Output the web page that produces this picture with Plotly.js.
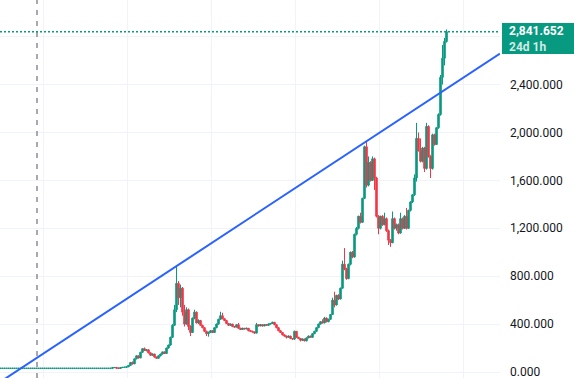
<!DOCTYPE html>
<html>
<head>
<meta charset="utf-8">
<script src="https://cdn.plot.ly/plotly-3.0.1.min.js"></script>
<style>html,body{margin:0;padding:0;background:#fff;}#chart{width:574px;height:378px;}</style>
</head>
<body>
<div id="chart"></div>
<script>
// Candle values (monthly-style bars)
const openV = [31,31,31,31,31,31,31,31,31,31,31,31,31,31,31,31,31,31,31,31,31,31,31,31,31,31,31,31,31,31,31,31,31,31,31,31,31,31,31,31,31,31,31,31,31,31,31,31,31,31,31,31,31,31,31,31,
31,36,38,33,30,37,39,40,43,55,80,68,110,135,118,165,195,180,185,160,140,150,125,115,135,150,168,155,200,225,290,390,520,740,620,700,500,400,520,380,330,450,500,410,430,390,370,340,320,330,345,330,370,400,440,470,445,430,405,390,400,380,375,395,365,355,365,360,365,345,340,335,325,395,385,395,385,395,390,400,405,415,395,370,345,330,310,300,290,300,280,275,340,290,280,265,275,260,285,300,290,320,340,370,400,420,410,450,420,440,480,600,560,640,610,700,900,860,780,900,1000,960,1150,1200,1300,1250,1450,1880,1560,1750,1600,1780,1620,1300,1200,1300,1230,1280,1180,1100,1080,1280,1200,1230,1160,1280,1200,1300,1200,1350,1420,1480,1620,1950,1850,1760,1870,1700,2050,1800,1700,1980,1900,2040,2150,2460,2620,2760];
const highV = [31,31,31,31,31,31,31,31,31,31,31,31,31,31,31,31,31,31,31,31,31,31,31,31,31,31,31,31,31,31,31,31,31,31,31,31,31,31,31,31,31,31,31,31,31,31,31,31,31,31,31,31,31,31,31,31,
36,39,40,36,38,40,41,44,56,82,88,112,140,138,168,198,205,192,188,164,155,152,128,138,153,170,172,203,228,295,400,560,880,760,730,710,560,540,530,390,455,520,505,440,435,395,375,345,338,350,350,375,405,445,503,495,450,435,410,405,402,385,400,410,370,370,368,370,367,350,344,338,410,400,400,398,400,398,405,410,420,418,398,374,350,334,315,304,305,302,284,345,342,294,284,280,278,288,305,304,324,344,374,404,424,440,460,455,445,485,620,670,645,650,705,930,1035,870,905,1005,1010,1155,1210,1305,1330,1455,1890,1920,1800,1760,1800,1790,1630,1310,1305,1310,1330,1290,1190,1110,1340,1290,1240,1240,1330,1290,1310,1370,1355,1425,1485,1650,2080,2000,1950,1880,1880,2080,2060,1810,1990,1990,2045,2160,2480,2730,2790,2860];
const lowV = [31,31,31,31,31,31,31,31,31,31,31,31,31,31,31,31,31,31,31,31,31,31,31,31,31,31,31,31,31,31,31,31,31,31,31,31,31,31,31,31,31,31,31,31,31,31,31,31,31,31,31,31,31,31,31,31,
31,35,25,26,30,36,38,39,42,54,62,66,106,112,115,160,176,172,155,136,136,120,110,112,130,146,150,152,196,220,285,385,500,560,540,470,380,395,350,300,325,440,405,400,385,365,335,300,295,325,325,326,365,395,435,440,425,400,385,385,375,370,372,360,350,352,356,356,340,336,330,318,322,380,382,380,382,385,387,396,402,390,365,340,326,306,296,280,286,276,270,268,285,276,255,260,256,256,282,286,287,316,336,366,395,405,406,415,416,436,476,540,555,600,605,695,850,770,775,890,950,955,1140,1190,1240,1245,1445,1540,1550,1590,1595,1520,1290,1150,1190,1220,1225,1170,1060,1045,1075,1190,1180,1150,1155,1190,1195,1190,1195,1340,1410,1470,1590,1840,1750,1750,1670,1690,1790,1620,1690,1890,1895,2030,2140,2400,2560,2750];
const closeV = [31,31,31,31,31,31,31,31,31,31,31,31,31,31,31,31,31,31,31,31,31,31,31,31,31,31,31,31,31,31,31,31,31,31,31,31,31,31,31,31,31,31,31,31,31,31,31,31,31,31,31,31,31,31,31,31,
36,38,33,30,37,39,40,43,55,80,68,110,135,118,165,195,180,185,160,140,150,125,115,135,150,168,155,200,225,290,390,520,740,620,700,500,400,520,380,330,450,500,410,430,390,370,340,320,330,345,330,370,400,440,470,445,430,405,390,400,380,375,395,365,355,365,360,365,345,340,335,325,395,385,395,385,395,390,400,405,415,395,370,345,330,310,300,290,300,280,275,340,290,280,265,275,260,285,300,290,320,340,370,400,420,410,450,420,440,480,600,560,640,610,700,900,860,780,900,1000,960,1150,1200,1300,1250,1450,1880,1560,1750,1600,1780,1620,1300,1200,1300,1230,1280,1180,1100,1080,1280,1200,1230,1160,1280,1200,1300,1200,1350,1420,1480,1620,1950,1850,1760,1870,1700,2050,1800,1700,1980,1900,2040,2150,2460,2620,2760,2841.652];

// Price scale: gridline values and their labels (the 2,800 label sits under the last-price tag)
const yTickVals = [0, 400, 800, 1200, 1600, 2000, 2400, 2800];
const yTickText = ['0.000', '400.000', '800.000', '1,200.000', '1,600.000', '2,000.000', '2,400.000', ''];

// Trend line anchor points (bar index, price) read at the plot edges
const trendX = [-0.25, 249.75];
const trendY = [-84, 2659];
// Vertical marker (bar index)
const markerX = 18.25;
const countdownText = "24d 1h";

const barIdx = closeV.map((_, i) => i);
const lastClose = closeV[closeV.length - 1];
const lastLabel = lastClose.toLocaleString('en-US', {minimumFractionDigits: 3, maximumFractionDigits: 3});

const UP = '#089981', DOWN = '#f23645', GRID = '#f0f3fa';

const traces = [
  {
    type: 'candlestick', x: barIdx, open: openV, high: highV, low: lowV, close: closeV,
    increasing: {line: {color: UP, width: 1}, fillcolor: UP},
    decreasing: {line: {color: DOWN, width: 1}, fillcolor: DOWN},
    whiskerwidth: 0, hoverinfo: 'skip', showlegend: false
  },
  {
    type: 'scatter', mode: 'lines', x: trendX, y: trendY,
    line: {color: '#2962ff', width: 2}, hoverinfo: 'skip', showlegend: false
  }
];

const layout = {
  width: 574, height: 378,
  margin: {l: 0, r: 74, t: 0, b: 0, pad: 0},
  paper_bgcolor: '#ffffff', plot_bgcolor: '#ffffff',
  showlegend: false, boxgap: 0.25, boxgroupgap: 0,
  font: {family: 'Roboto, "Open Sans", sans-serif', size: 12, color: '#131722'},
  xaxis: {
    range: [-0.25, 249.75], showticklabels: false, ticks: '',
    showgrid: true, gridcolor: GRID, gridwidth: 1, tick0: 21.25, dtick: 42,
    zeroline: false, showline: false, rangeslider: {visible: false}, fixedrange: true
  },
  yaxis: {
    side: 'right', range: [-50, 3106], tickmode: 'array', tickvals: yTickVals, ticktext: yTickText,
    showgrid: true, gridcolor: GRID, gridwidth: 1, zeroline: false, showline: false,
    ticks: '', ticklabelstandoff: 9, ticklabeloverflow: 'allow',
    tickfont: {family: 'Roboto, sans-serif', size: 12, color: '#131722'},
    fixedrange: true
  },
  shapes: [
    {type: 'line', xref: 'x', yref: 'paper', x0: markerX, x1: markerX, y0: 0, y1: 1,
     line: {color: '#8a8d96', width: 1.5, dash: '5px,6px'}},
    {type: 'line', xref: 'paper', yref: 'y', x0: 0, x1: 1, y0: lastClose, y1: lastClose,
     line: {color: UP, width: 1.5, dash: '2px,2px'}},
    {type: 'rect', xref: 'paper', yref: 'paper', x0: 1.004, x1: 1.148, y0: 0.857, y1: 0.939,
     fillcolor: UP, line: {width: 0}, layer: 'above'}
  ],
  annotations: [
    {xref: 'paper', yref: 'paper', x: 1.016, y: 0.898, xanchor: 'left', yanchor: 'middle',
     align: 'left', borderpad: 0,
     text: '<b>' + lastLabel + '</b><br><span style="color:rgba(255,255,255,0.82)"><b>' + countdownText + '</b></span>',
     showarrow: false, font: {family: 'Roboto, sans-serif', size: 12, color: '#ffffff'}}
  ]
};

Plotly.newPlot('chart', traces, layout, {staticPlot: true, displayModeBar: false});
</script>
</body>
</html>
